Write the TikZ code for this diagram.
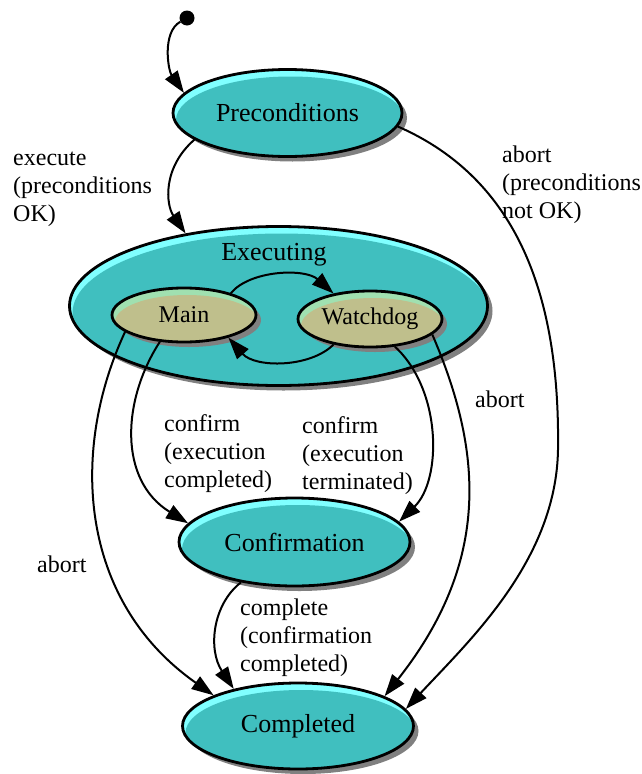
\documentclass[tikz,border=0pt]{standalone}
\usepackage{fontspec}
\setmainfont{Liberation Serif}
\usetikzlibrary{arrows.meta,shapes.geometric,shadows,calc}
\definecolor{stateteal}{RGB}{64,191,191}
\definecolor{statecyan}{RGB}{128,255,255}
\definecolor{subkhaki}{RGB}{191,191,140}
\definecolor{subgreen}{RGB}{160,224,176}

\begin{document}
\begin{tikzpicture}[x=1pt, y=-1pt, >={Triangle[length=22pt,width=15pt]},
  shine/.style 2 args={fill=#1, path picture={\fill[#2]
    let \p1=(path picture bounding box.north east),
        \p2=(path picture bounding box.center) in
    ($(\p2)+(3pt,-7pt)$) ellipse [x radius=\x1-\x2, y radius=\y1-\y2];}},
  state/.style={ellipse, draw, line width=2.8pt, inner sep=0pt,
    font=\fontsize{26}{30}\selectfont, shine={statecyan}{stateteal},
    drop shadow={shadow xshift=5pt, shadow yshift=-5pt, fill=gray, opacity=1}},
  substate/.style={state, font=\fontsize{24}{28}\selectfont,
    shine={subgreen}{subkhaki}},
  trans/.style={->, line width=2pt},
  lbl/.style={align=left, anchor=base west, inner sep=0pt,
    font=\fontsize{24}{28}\selectfont}]
  \useasboundingbox (0,0) rectangle (642,774);

  \node[circle, fill, minimum size=15pt, inner sep=0pt] (init) at (187,18) {};
  \node[state, minimum width=229pt, minimum height=87pt] (pre) at (287.5,113) {Preconditions};
  \node[state, minimum width=418pt, minimum height=159pt] (exec) at (278.5,306) {};
  \node[font=\fontsize{26}{30}\selectfont, anchor=base] (execlabel) at (274,260) {Executing};
  \node[substate, minimum width=144pt, minimum height=54pt] (main) at (184,315) {Main};
  \node[substate, minimum width=144pt, minimum height=56pt] (watchdog) at (370,319) {Watchdog};
  \node[state, minimum width=231pt, minimum height=88pt] (conf) at (294.5,542) {Confirmation};
  \node[state, minimum width=231pt, minimum height=86pt] (done) at (298,726) {Completed};

  \draw[trans] (init) .. controls (162,32) and (168,70) .. (pre.169);
  \draw[trans] (pre.196) .. controls (162,168) and (166,205) .. (exec.142);
  \draw[trans] (pre.353) .. controls (520,180) and (560,300) .. (558,450)
    .. controls (556,560) and (470,640) .. (done.9);
  \draw[trans] (main.25) .. controls (250,270) and (305,268) .. (watchdog.145);
  \draw[trans] (watchdog.215) .. controls (310,368) and (255,368) .. (main.333);
  \draw[trans] (main.228) .. controls (122,400) and (118,480) .. (conf.170);
  \draw[trans] (watchdog.312) .. controls (442,390) and (442,480) .. (conf.11);
  \draw[trans] (main.196) .. controls (70,450) and (78,600) .. (done.160);
  \draw[trans] (watchdog.346) .. controls (482,450) and (492,560) .. (done.19);
  \draw[trans] (conf.217) .. controls (212,605) and (208,650) .. (done.150);

  \node[lbl] (lexecute) at (13,221) {execute\\(preconditions\\OK)};
  \node[lbl] (labortpre) at (502,218) {abort\\(preconditions\\not OK)};
  \node[lbl] (lconfmain) at (164,487) {confirm\\(execution\\completed)};
  \node[lbl] (lconfwd) at (302,489) {confirm\\(execution\\terminated)};
  \node[lbl] (lcomplete) at (240,671) {complete\\(confirmation\\completed)};
  \node[lbl] (labortmain) at (37,572) {abort};
  \node[lbl] (labortwd) at (475,407) {abort};
\end{tikzpicture}
\end{document}
